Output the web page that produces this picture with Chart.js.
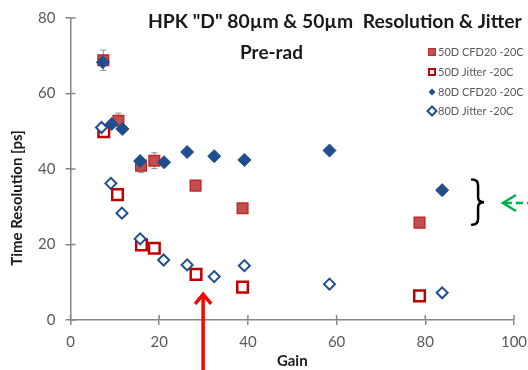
<!DOCTYPE html>
<html>
<head>
<meta charset="utf-8">
<script src="https://cdn.jsdelivr.net/npm/chart.js@4.4.1/dist/chart.umd.min.js"></script>
<style>
  html, body { margin: 0; padding: 0; background: #fff; }
  #wrap { width: 528px; height: 370px; position: relative; }
</style>
</head>
<body>
<div id="wrap"><canvas id="chart"></canvas></div>
<script>
// gain vs time resolution [ps]
const gain50CFD = [7.4, 10.8, 15.9, 18.9, 28.2, 38.8, 78.7];
const res50CFD  = [68.8, 52.8, 40.9, 42.2, 35.6, 29.6, 25.8];
const err50CFD  = [2.7, 2.0, 1.8, 2.1, 0, 0, 0];

const gain50Jit = [7.5, 10.6, 16.0, 18.9, 28.3, 38.8, 78.7];
const res50Jit  = [49.9, 33.2, 19.9, 19.0, 12.1, 8.7, 6.4];

const gain80CFD = [7.3, 9.3, 11.7, 15.7, 21.1, 26.3, 32.4, 39.2, 58.4, 83.8];
const res80CFD  = [68.3, 51.9, 50.6, 42.1, 41.8, 44.5, 43.4, 42.4, 44.9, 34.4];

const gain80Jit = [7.0, 9.1, 11.6, 15.7, 21.0, 26.3, 32.4, 39.2, 58.4, 83.8];
const res80Jit  = [51.0, 36.2, 28.3, 21.5, 15.9, 14.6, 11.5, 14.4, 9.5, 7.2];

const xTicks = [0, 20, 40, 60, 80, 100];
const yTicks = [0, 20, 40, 60, 80];

const seriesNames = ['50D CFD20 -20C', '50D Jitter -20C', '80D CFD20 -20C', '80D Jitter -20C'];

// annotation anchors (data units)
const arrowGain = 29.9, arrowTip = 7.2;
const braceGain = 91.9, braceTop = 37.2, braceBottom = 25.2;
const greenArrowGain = 97.5, greenArrowRes = 31;

const FONT = 'Lato, "Open Sans", sans-serif';
const RED = '#c00000';
const BLUE = '#1f4e8c';

function toPts(xs, ys) {
  return xs.map((x, i) => ({ x: x, y: ys[i] }));
}

// draw bold text stretched to a given width
function fitText(ctx, text, x, y, width) {
  ctx.font = 'bold 16px ' + FONT;
  const size = 16 * width / ctx.measureText(text).width;
  ctx.font = 'bold ' + size.toFixed(2) + 'px ' + FONT;
  ctx.fillText(text, x, y);
}

const overlay = {
  id: 'overlay',
  beforeDatasetsDraw(chart) {
    const ctx = chart.ctx;
    const xs = chart.scales.x, ys = chart.scales.y;
    ctx.save();
    ctx.strokeStyle = '#8c8c8c';
    ctx.lineWidth = 1;
    gain50CFD.forEach((g, i) => {
      const e = err50CFD[i];
      if (!e) return;
      const px = xs.getPixelForValue(g);
      const top = ys.getPixelForValue(res50CFD[i] + e);
      const bot = ys.getPixelForValue(res50CFD[i] - e);
      ctx.beginPath();
      ctx.moveTo(px, top); ctx.lineTo(px, bot);
      ctx.moveTo(px - 3, top); ctx.lineTo(px + 3, top);
      ctx.moveTo(px - 3, bot); ctx.lineTo(px + 3, bot);
      ctx.stroke();
    });
    ctx.restore();
  },
  afterDraw(chart) {
    const ctx = chart.ctx;
    const xs = chart.scales.x, ys = chart.scales.y;
    const area = chart.chartArea;
    ctx.save();

    // inner half of the crossing tick marks
    ctx.strokeStyle = '#868686';
    ctx.lineWidth = 1.5;
    ctx.beginPath();
    yTicks.forEach(v => {
      const py = ys.getPixelForValue(v);
      ctx.moveTo(area.left, py); ctx.lineTo(area.left + 5, py);
    });
    xTicks.forEach(v => {
      const px = xs.getPixelForValue(v);
      ctx.moveTo(px, area.bottom); ctx.lineTo(px, area.bottom - 5);
    });
    ctx.stroke();

    // titles
    ctx.fillStyle = '#1a1a1a';
    ctx.textBaseline = 'middle';
    ctx.textAlign = 'left';
    fitText(ctx, 'HPK "D" 80\u00b5m & 50\u00b5m  Resolution & Jitter', 148, 22, 374);
    fitText(ctx, 'Pre-rad', 240, 53, 63);

    // y axis title
    ctx.save();
    ctx.translate(17, 198);
    ctx.rotate(-Math.PI / 2);
    ctx.textAlign = 'center';
    ctx.font = 'bold 15px ' + FONT;
    ctx.fillText('Time Resolution [ps]', 0, 0);
    ctx.restore();

    // legend
    const rows = [52, 72, 92, 111];
    ctx.font = '11px ' + FONT;
    ctx.fillStyle = '#595959';
    rows.forEach((ry, i) => {
      const mx = 432;
      ctx.save();
      if (i === 0) {
        ctx.fillStyle = '#c0504d';
        ctx.fillRect(mx - 3.5, ry - 3.5, 7, 7);
        ctx.strokeStyle = '#c0282d';
        ctx.lineWidth = 1;
        ctx.strokeRect(mx - 3.5, ry - 3.5, 7, 7);
      } else if (i === 1) {
        ctx.strokeStyle = RED;
        ctx.lineWidth = 2;
        ctx.strokeRect(mx - 3, ry - 3, 6, 6);
      } else {
        const r = i === 2 ? 3.5 : 4.5;
        ctx.beginPath();
        ctx.moveTo(mx - r, ry); ctx.lineTo(mx, ry - r);
        ctx.lineTo(mx + r, ry); ctx.lineTo(mx, ry + r);
        ctx.closePath();
        if (i === 2) { ctx.fillStyle = BLUE; ctx.fill(); }
        else { ctx.fillStyle = '#fff'; ctx.fill(); ctx.strokeStyle = BLUE; ctx.lineWidth = 2; ctx.stroke(); }
      }
      ctx.restore();
      ctx.fillText(seriesNames[i], 438, ry + 0.5);
    });

    // red arrow pointing up from below the axis
    const ax = xs.getPixelForValue(arrowGain);
    const at = ys.getPixelForValue(arrowTip);
    ctx.strokeStyle = '#ff0000';
    ctx.lineWidth = 3.5;
    ctx.lineCap = 'butt';
    ctx.beginPath();
    ctx.moveTo(ax, chart.height);
    ctx.lineTo(ax, at + 2);
    ctx.stroke();
    ctx.lineJoin = 'miter';
    ctx.beginPath();
    ctx.moveTo(ax - 8, at + 11);
    ctx.lineTo(ax, at + 1.5);
    ctx.lineTo(ax + 8, at + 11);
    ctx.stroke();

    // brace
    const bx = xs.getPixelForValue(braceGain) - 6;
    const bt = ys.getPixelForValue(braceTop);
    const bb = ys.getPixelForValue(braceBottom);
    const bm = (bt + bb) / 2;
    const w = 12;
    ctx.strokeStyle = '#000';
    ctx.lineWidth = 2.5;
    ctx.lineCap = 'round';
    ctx.beginPath();
    ctx.moveTo(bx, bt);
    ctx.quadraticCurveTo(bx + w / 2, bt, bx + w / 2, bt + 6);
    ctx.lineTo(bx + w / 2, bm - 5);
    ctx.quadraticCurveTo(bx + w / 2, bm, bx + w, bm);
    ctx.quadraticCurveTo(bx + w / 2, bm, bx + w / 2, bm + 5);
    ctx.lineTo(bx + w / 2, bb - 6);
    ctx.quadraticCurveTo(bx + w / 2, bb, bx, bb);
    ctx.stroke();

    // green dashed arrow
    const gx = xs.getPixelForValue(greenArrowGain);
    const gy = ys.getPixelForValue(greenArrowRes);
    ctx.strokeStyle = '#00b050';
    ctx.lineWidth = 2.5;
    ctx.lineCap = 'butt';
    ctx.beginPath();
    ctx.moveTo(gx + 13, gy - 8);
    ctx.lineTo(gx, gy);
    ctx.lineTo(gx + 13, gy + 8);
    ctx.stroke();
    ctx.setLineDash([7, 4]);
    ctx.beginPath();
    ctx.moveTo(gx + 2, gy);
    ctx.lineTo(chart.width, gy);
    ctx.stroke();

    ctx.restore();
  }
};

new Chart(document.getElementById('chart'), {
  type: 'scatter',
  data: {
    datasets: [
      {
        label: seriesNames[0],
        data: toPts(gain50CFD, res50CFD),
        pointStyle: 'rect',
        pointRadius: 7.5,
        backgroundColor: '#c0504d',
        borderColor: '#c0282d',
        borderWidth: 1.5,
        order: 3
      },
      {
        label: seriesNames[1],
        data: toPts(gain50Jit, res50Jit),
        pointStyle: 'rect',
        pointRadius: 7.5,
        backgroundColor: '#ffffff',
        borderColor: RED,
        borderWidth: 2.5,
        order: 2
      },
      {
        label: seriesNames[2],
        data: toPts(gain80CFD, res80CFD),
        pointStyle: 'rectRot',
        pointRadius: 6.5,
        backgroundColor: BLUE,
        borderColor: BLUE,
        borderWidth: 1,
        order: 1
      },
      {
        label: seriesNames[3],
        data: toPts(gain80Jit, res80Jit),
        pointStyle: 'rectRot',
        pointRadius: 5.5,
        backgroundColor: '#ffffff',
        borderColor: BLUE,
        borderWidth: 2,
        order: 0
      }
    ]
  },
  options: {
    responsive: true,
    maintainAspectRatio: false,
    animation: false,
    layout: { padding: { top: 18, right: 14, left: 0, bottom: 0 } },
    plugins: {
      legend: { display: false },
      tooltip: { enabled: false }
    },
    scales: {
      x: {
        type: 'linear',
        min: 0,
        max: 100,
        afterBuildTicks: s => { s.ticks = xTicks.map(v => ({ value: v })); },
        afterFit: s => { s.height = 50; s.paddingLeft = 0; s.paddingRight = 0; },
        grid: { drawOnChartArea: false, tickLength: 5, color: '#868686', lineWidth: 1.5 },
        border: { color: '#868686', width: 1.5 },
        ticks: { padding: 8, color: '#595959', font: { family: FONT, size: 15 } },
        title: {
          display: true,
          text: 'Gain',
          color: '#1a1a1a',
          font: { family: FONT, size: 15, weight: 'bold' },
          padding: { top: 0, bottom: 0 }
        }
      },
      y: {
        type: 'linear',
        min: 0,
        max: 80,
        afterBuildTicks: s => { s.ticks = yTicks.map(v => ({ value: v })); },
        afterFit: s => { s.width = 70.5; s.paddingTop = 0; s.paddingBottom = 0; },
        grid: { drawOnChartArea: false, tickLength: 5, color: '#868686', lineWidth: 1.5 },
        border: { color: '#868686', width: 1.5 },
        ticks: { padding: 10, color: '#595959', font: { family: FONT, size: 15 } }
      }
    }
  },
  plugins: [overlay]
});
</script>
</body>
</html>
